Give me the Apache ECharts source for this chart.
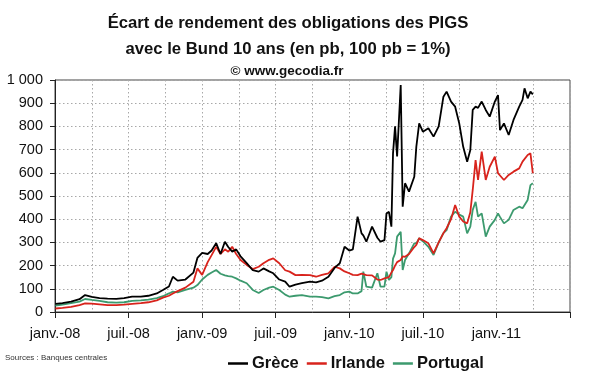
<!DOCTYPE html>
<html>
<head>
<meta charset="utf-8">
<script src="https://cdn.jsdelivr.net/npm/echarts@6/dist/echarts.min.js"></script>
<style>
html,body{margin:0;padding:0;background:#fff;}
#chart{width:600px;height:372px;}
</style>
</head>
<body>
<div id="chart"></div>
<script>
const dates = ['2008-01-02','2008-01-20','2008-02-10','2008-03-01','2008-03-15','2008-04-01','2008-04-20','2008-05-10','2008-06-01','2008-06-20','2008-07-10','2008-08-01','2008-08-20','2008-09-10','2008-09-25','2008-10-10','2008-10-20','2008-11-01','2008-11-20','2008-12-10','2008-12-20',
'2009-01-01','2009-01-15','2009-01-25','2009-02-05','2009-02-15','2009-02-25','2009-03-05','2009-03-15','2009-03-25','2009-04-05','2009-04-20','2009-05-05','2009-05-20','2009-06-01','2009-06-15','2009-06-25','2009-07-10','2009-07-25','2009-08-05','2009-08-20','2009-09-05','2009-09-25','2009-10-10','2009-10-25','2009-11-10','2009-11-25','2009-12-08','2009-12-20',
'2010-01-01','2010-01-10','2010-01-22','2010-02-01','2010-02-05','2010-02-12','2010-02-25','2010-03-10','2010-03-18','2010-03-28','2010-04-02','2010-04-08','2010-04-14','2010-04-18','2010-04-23','2010-04-28','2010-05-07','2010-05-12','2010-05-18','2010-05-28','2010-06-10','2010-06-15','2010-06-22','2010-07-01','2010-07-15','2010-07-28','2010-08-10','2010-08-22','2010-08-30','2010-09-10','2010-09-20','2010-09-30','2010-10-10','2010-10-20','2010-10-28','2010-11-03','2010-11-10','2010-11-16','2010-11-25','2010-12-05','2010-12-15','2010-12-28',
'2011-01-05','2011-01-10','2011-01-20','2011-02-01','2011-02-12','2011-02-25','2011-03-05','2011-03-10','2011-03-18','2011-03-25','2011-03-31'];

const grece = [35,38,45,55,73,65,60,58,57,60,66,66,70,80,95,110,152,135,140,170,233,
255,250,265,297,250,303,280,260,270,240,211,180,174,188,175,167,140,131,109,118,124,131,128,135,152,190,210,281,
265,270,411,339,330,303,368,320,303,310,425,432,368,684,800,670,978,454,555,519,583,712,813,777,792,756,800,928,950,907,885,813,712,648,698,871,885,880,907,871,842,907,
935,784,813,763,828,885,914,964,921,950,938];

const irlande = [15,18,22,30,37,36,33,30,30,32,35,38,42,50,62,70,80,90,105,130,188,
160,215,245,281,250,270,260,281,250,224,203,185,195,210,225,231,210,180,174,159,160,159,152,160,167,195,188,175,
167,160,159,165,160,159,158,140,138,145,145,150,170,181,200,215,224,240,238,250,280,289,318,310,296,253,300,340,361,400,461,411,390,382,430,526,655,569,691,569,626,670,
598,590,569,591,605,619,648,650,677,684,598];

const portugal = [28,32,38,45,56,52,48,42,40,42,48,50,53,60,68,80,88,85,95,105,116,
140,160,170,181,165,158,155,152,145,135,124,95,82,95,105,109,95,75,66,70,73,66,66,64,59,68,73,85,
88,80,80,90,174,109,105,167,109,110,174,138,150,230,253,325,346,181,224,253,296,296,318,305,281,246,300,340,353,411,432,420,411,339,368,440,475,411,425,325,368,397,
425,410,382,397,440,454,447,450,483,547,555];

const xTickLabels = ['janv.-08','juil.-08','janv.-09','juil.-09','janv.-10','juil.-10','janv.-11',''];
const seriesNames = ['Grèce','Irlande','Portugal'];

// months since January 2008 (fractional)
function monthIndex(s){
  const [y,m,d] = s.split('-').map(Number);
  const dim = new Date(Date.UTC(y, m, 0)).getUTCDate();
  return (y-2008)*12 + (m-1) + (d-1)/dim;
}
const xs = dates.map(monthIndex);
const pair = vals => vals.map((v,i)=>[xs[i], v]);

const FONT = 'Arial, "Liberation Sans", sans-serif';
const chart = echarts.init(document.getElementById('chart'), null, {renderer:'canvas'});
chart.setOption({
  animation:false,
  backgroundColor:'#fff',
  title:[
    {text:'Écart de rendement des obligations des PIGS', left:283, textAlign:'center', top:10,
     textStyle:{fontFamily:FONT, fontSize:16.7, fontWeight:'bold', color:'#111'}},
    {text:'avec le Bund 10 ans (en pb, 100 pb = 1%)', left:283, textAlign:'center', top:36,
     textStyle:{fontFamily:FONT, fontSize:16.7, fontWeight:'bold', color:'#111'}},
    {text:'© www.gecodia.fr', left:282, textAlign:'center', top:59,
     textStyle:{fontFamily:FONT, fontSize:13.5, fontWeight:'bold', color:'#111'}}
  ],
  graphic:[
    {type:'text', left:5, top:354, style:{text:'Sources : Banques centrales', font:'8px '+FONT, fill:'#333'}}
  ],
  legend:{
    data:seriesNames, left:223, top:350, itemWidth:20, itemHeight:2.5, itemGap:8,
    icon:'rect',
    textStyle:{fontFamily:FONT, fontSize:16.5, fontWeight:'bold', color:'#111', padding:[0,0,0,-1]}
  },
  grid:{left:55, right:30, top:80, bottom:60, show:true, borderColor:'#444', borderWidth:1},
  xAxis:{
    type:'value', min:0, max:42, interval:6,
    axisLine:{show:true, lineStyle:{color:'#222', width:1}},
    axisTick:{show:true, length:6, lineStyle:{color:'#222'}},
    axisLabel:{margin:14, fontFamily:FONT, fontSize:14.5, color:'#111',
      formatter:v=>xTickLabels[Math.round(v/6)] || ''},
    splitLine:{show:true, lineStyle:{type:[1.5,2.5], color:'#a8a8a8'}},
    minorTick:{show:false, splitNumber:2},
    minorSplitLine:{show:true, lineStyle:{type:[1.5,2.5], color:'#a8a8a8'}}
  },
  yAxis:{
    type:'value', min:0, max:1000, interval:100,
    axisLine:{show:true, lineStyle:{color:'#222', width:1}},
    axisTick:{show:true, length:5, lineStyle:{color:'#222'}},
    axisLabel:{margin:12, fontFamily:FONT, fontSize:14.5, color:'#111',
      formatter:v=>v>=1000 ? Math.floor(v/1000)+' '+String(v%1000).padStart(3,'0') : String(v)},
    splitLine:{show:true, lineStyle:{type:[1.5,2.5], color:'#a8a8a8'}}
  },
  series:[
    {name:seriesNames[0], type:'line', data:pair(grece), showSymbol:false, z:4,
     lineStyle:{color:'#000', width:1.8}, itemStyle:{color:'#000'}},
    {name:seriesNames[1], type:'line', data:pair(irlande), showSymbol:false, z:3,
     lineStyle:{color:'#d8231c', width:1.8}, itemStyle:{color:'#d8231c'}},
    {name:seriesNames[2], type:'line', data:pair(portugal), showSymbol:false, z:2,
     lineStyle:{color:'#3c9a6e', width:1.8}, itemStyle:{color:'#3c9a6e'}}
  ]
});
</script>
</body>
</html>
